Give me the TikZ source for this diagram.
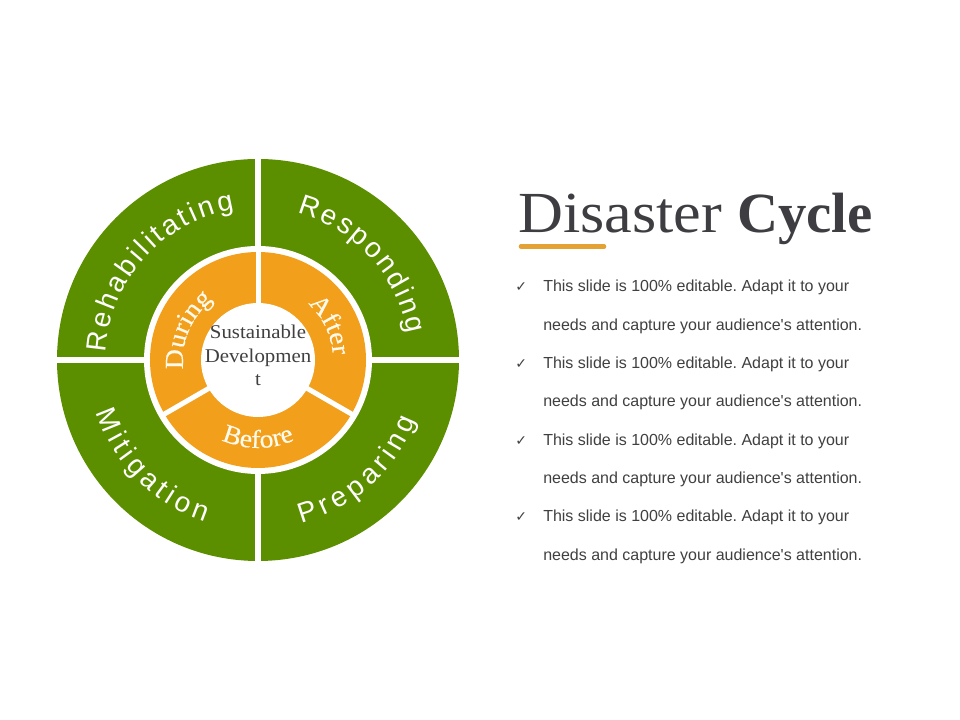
\documentclass[tikz,border=0pt]{standalone}
\usepackage{fontspec}
\setmainfont{Liberation Serif}
\setsansfont{Liberation Sans}
\newfontfamily\cambria[FakeStretch=1.07]{Liberation Serif}
\newfontfamily\cambriaheavy[FakeStretch=1.07,FakeBold=0.25]{Liberation Serif}
\newfontfamily\djv{DejaVu Sans}
\usetikzlibrary{decorations.text}
\definecolor{wheelgreen}{RGB}{91,143,0}
\definecolor{wheelorange}{RGB}{242,159,28}
\definecolor{textgrey}{RGB}{64,64,64}
\definecolor{titlegrey}{RGB}{62,62,66}
\definecolor{lineorange}{RGB}{227,162,51}
\definecolor{cream}{RGB}{255,250,235}
\frenchspacing
\tikzset{
  outerlabel/.style={decorate, decoration={text along path, text align=fit to path,
     text color=white, text={|\sffamily\fontsize{21}{21}\selectfont|#1}}},
  innerlabel/.style={decorate, decoration={text along path, text align=center,
     text color=cream, text={|\cambriaheavy\fontsize{19.5}{19.5}\selectfont|#1}}},
  bullettext/.style={anchor=base west, inner sep=0pt, text=textgrey,
     font=\sffamily\fontsize{12}{12}\selectfont},
  checkmark/.style={anchor=base west, inner sep=0pt, text=textgrey,
     font=\djv\fontsize{10.5}{10.5}\selectfont},
  gapline/.style={white, line width=4.5pt},
  ringgap/.style={white, line width=3.75pt}
}
\begin{document}
\begin{tikzpicture}[x=0.75pt,y=0.75pt]
\useasboundingbox (0,0) rectangle (960,720);
\fill[white] (0,0) rectangle (960,720);
\begin{scope}[shift={(258,360)}]
  \coordinate (C) at (0,0);
  \fill[wheelgreen] (C) circle[radius=201];
  \draw[gapline] (0,-205) -- (0,205);
  \draw[gapline] (-205,0) -- (205,0);
  \fill[white] (C) circle[radius=114];
  \fill[wheelorange] (C) circle[radius=108];
  \foreach \a in {90,210,330} \draw[ringgap] (C) -- (\a:110);
  \fill[white] (C) circle[radius=57];
  % outer labels
  \path[outerlabel=Rehabilitating] (177:152) arc[start angle=177, end angle=99, radius=152];
  \path[outerlabel=Responding] (75:152) arc[start angle=75, end angle=10, radius=152];
  \path[outerlabel=Mitigation] (-162:170) arc[start angle=-162, end angle=-108, radius=170];
  \path[outerlabel=Preparing] (-75:169) arc[start angle=-75, end angle=-21, radius=169];
  % inner labels
  \path[innerlabel=During] (207:75) arc[start angle=207, end angle=107, radius=75];
  \path[innerlabel=After] (76:75) arc[start angle=76, end angle=-24, radius=75];
  \path[innerlabel=Before] (-140:88) arc[start angle=-140, end angle=-40, radius=88];
  \node[align=center, inner sep=0pt, text=textgrey,
        font=\cambria\fontsize{14.6}{17.6}\selectfont] (sd) at (0,4.5)
        {Sustainable\\Developmen\\t};
\end{scope}
% title
\node[anchor=base west, inner sep=0pt, text=titlegrey,
      font=\cambria\fontsize{43.6}{43.6}\selectfont] (t1) at (518,487) {Disaster};
\node[anchor=base west, inner sep=0pt, text=titlegrey,
      font=\rmfamily\bfseries\fontsize{42.6}{42.6}\selectfont] (t2) at (737,487) {Cycle};
\coordinate (u1) at (521,473.5);
\coordinate (u2) at (604,473.5);
\draw[lineorange, line width=3.4pt, line cap=round] (u1) -- (u2);
% bullets
\foreach \i/\y in {0/428,2/351.4,4/274.8,6/198.2}{
  \node[checkmark] (c\i) at (515,\y) {✓};
  \node[bullettext] (b\i) at (543,\y) {This slide is 100\% editable. Adapt it to your};
}
\foreach \i/\y in {1/389.7,3/313.1,5/236.5,7/159.9}{
  \node[bullettext] (b\i) at (543,\y) {needs and capture your audience\textquotesingle s attention.};
}
\end{tikzpicture}
\end{document}
